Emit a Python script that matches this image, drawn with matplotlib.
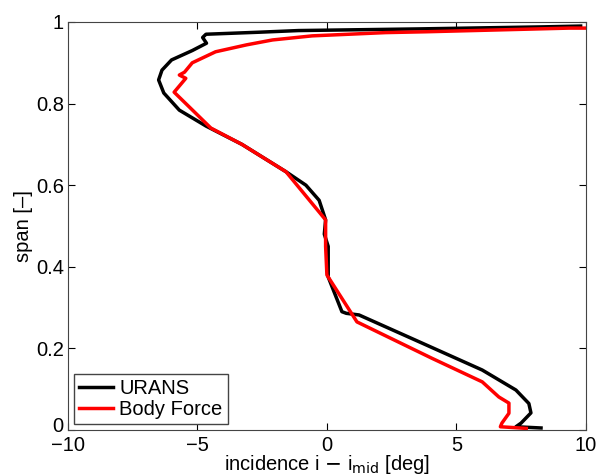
import matplotlib.pyplot as plt
import matplotlib.transforms as mtransforms

plt.rcParams['font.family'] = ['Liberation Sans', 'DejaVu Sans']

# URANS (black) - incidence vs span
urans_inc = [9.8, 8.3, 3.5, -1.1, -2.6, -4.67, -4.8, -4.65, -5.2, -6.0, -6.37, -6.5,
             -6.3, -5.7, -4.67, -3.28, -1.58, -0.81, -0.3, -0.05, -0.1, 0.05, 0.05,
             0.58, 0.75, 1.24, 3.43, 6.0, 7.3, 7.8, 7.88, 7.5, 7.3, 8.27]
urans_span = [0.99, 0.988, 0.983, 0.979, 0.975, 0.97, 0.962, 0.948, 0.93, 0.907, 0.882,
              0.858, 0.826, 0.784, 0.745, 0.70, 0.633, 0.60, 0.563, 0.515, 0.48, 0.45,
              0.375, 0.29, 0.286, 0.282, 0.22, 0.147, 0.098, 0.065, 0.042, 0.017,
              0.008, 0.005]

# Body Force (red)
bf_inc = [10.0, 9.35, 3.8, 2.27, -0.57, -2.1, -3.1, -4.3, -5.2, -5.5, -5.7, -5.45,
          -5.9, -4.48, -3.28, -1.58, -0.05, -0.05, 0.0, 1.16, 4.05, 6.0, 6.64, 7.03,
          7.03, 6.76, 6.7, 7.7]
bf_span = [0.985, 0.985, 0.976, 0.974, 0.966, 0.956, 0.944, 0.927, 0.9, 0.877, 0.87,
           0.862, 0.828, 0.74, 0.70, 0.633, 0.515, 0.45, 0.38, 0.265, 0.176, 0.118,
           0.081, 0.066, 0.041, 0.017, 0.008, 0.004]

fig = plt.figure(figsize=(5.99, 4.75), dpi=100)
ax = fig.add_axes([0.1135, 0.0947, 0.8645, 0.859])

ax.plot(urans_inc, urans_span, color='black', lw=2.5, label='URANS')
ax.plot(bf_inc, bf_span, color='red', lw=2.5, label='Body Force')

ax.set_xlim(-10, 10)
ax.set_ylim(0, 1)
ax.set_xticks([-10, -5, 0, 5, 10])
ax.set_yticks([0, 0.2, 0.4, 0.6, 0.8, 1])
ax.set_yticklabels(['0', '0.2', '0.4', '0.6', '0.8', '1'])
ax.tick_params(direction='in', top=True, right=True, labelsize=14.5, length=5)
ax.tick_params(axis='x', pad=4)
ax.tick_params(axis='y', pad=3)
for s in ax.spines.values():
    s.set_color('#444444')

# nudge the "0" on the span axis up a few pixels so it clears the "-10"
lbl0 = ax.get_yticklabels()[0]
lbl0.set_transform(lbl0.get_transform() +
                   mtransforms.ScaledTranslation(0, 4 / 72, fig.dpi_scale_trans))

ax.set_xlabel(r'incidence i $-$ i$_{\mathrm{mid}}$ [deg]', fontsize=14.5, labelpad=-1)
ax.set_ylabel('span [–]', fontsize=14.5, labelpad=2)

leg = ax.legend(loc='lower left', fontsize=14.5, fancybox=False, framealpha=1,
                edgecolor='#444444', handlelength=1.7, handletextpad=0.3,
                borderaxespad=0.3, labelspacing=0.1, borderpad=0.25)

fig.savefig('out.png', dpi=100)
